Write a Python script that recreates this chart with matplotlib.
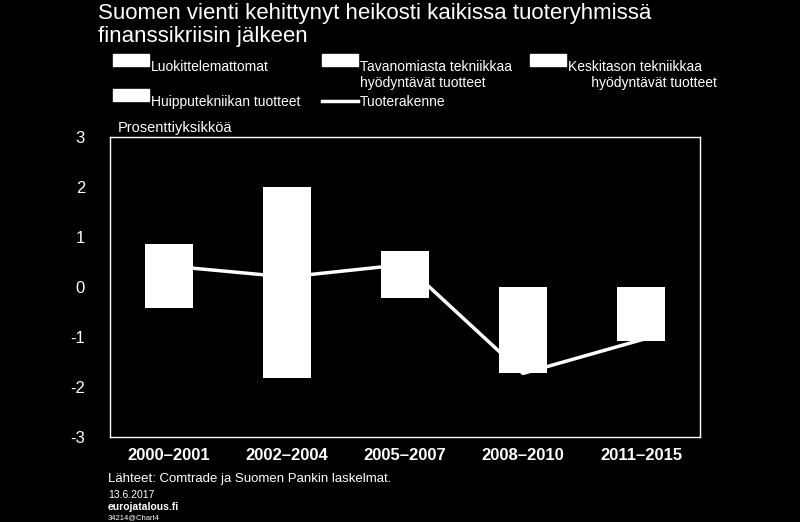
import matplotlib.pyplot as plt
import numpy as np
from matplotlib.patches import Rectangle
from matplotlib.lines import Line2D

plt.rcParams["font.family"] = "Liberation Sans"
plt.rcParams["axes.unicode_minus"] = False

kaudet = ["2000–2001", "2002–2004", "2005–2007", "2008–2010", "2011–2015"]
luokittelemattomat = [0.30, 1.00, 0.30, -0.50, -0.30]
tavanomainen = [0.30, -0.80, 0.20, -0.50, -0.30]
keskitaso = [0.26, 1.00, 0.22, -0.40, -0.28]
huippu = [-0.42, -1.02, -0.22, -0.32, -0.20]
tuoterakenne = [0.42, 0.20, 0.45, -1.73, -1.06]

fig = plt.figure(figsize=(8, 5.22), dpi=100, facecolor="black")
ax = fig.add_axes([0.1375, 0.163, 0.7375, 0.5745], facecolor="black")

x = np.arange(len(kaudet))
pos = np.zeros(len(kaudet))
neg = np.zeros(len(kaudet))
for sarja in [luokittelemattomat, tavanomainen, keskitaso, huippu]:
    v = np.array(sarja)
    base = np.where(v >= 0, pos, neg)
    ax.bar(x, v, 0.4, bottom=base, color="white", edgecolor="none", linewidth=0, zorder=2)
    pos = pos + np.where(v >= 0, v, 0)
    neg = neg + np.where(v < 0, v, 0)

ax.plot(x, tuoterakenne, color="white", lw=2.5, zorder=1)

ax.set_xlim(-0.5, 4.5)
ax.set_ylim(-3, 3)
ax.set_yticks(range(-3, 4))
ax.set_xticks(x)
ax.set_xticklabels(kaudet, fontsize=12, fontweight="bold")
ax.tick_params(colors="white", labelsize=12, length=0, pad=8)
ax.tick_params(axis="y", pad=18)
for s in ax.spines.values():
    s.set_color("white")
    s.set_linewidth(1)

W, H = 800, 522
def fx(px): return px / W
def fy(py): return 1 - py / H

fig.text(fx(98), fy(3), "Suomen vienti kehittynyt heikosti kaikissa tuoteryhmissä\nfinanssikriisin jälkeen",
         color="white", fontsize=16, va="top", linespacing=1.1)
fig.text(fx(118), fy(128), "Prosenttiyksikköä", color="white", fontsize=10.5, va="center")

def laatikko(px, py, teksti):
    fig.patches.append(Rectangle((fx(px), fy(py + 6)), fx(36), 12 / H, color="white",
                                 transform=fig.transFigure))
    fig.text(fx(px + 38), fy(py), teksti, color="white", fontsize=10, va="top")

laatikko(113, 60, "Luokittelemattomat")
laatikko(322, 60, "Tavanomiasta tekniikkaa\nhyödyntävät tuotteet")
laatikko(530, 60, "Keskitason tekniikkaa\n      hyödyntävät tuotteet")
laatikko(113, 95, "Huipputekniikan tuotteet")
fig.lines.append(Line2D([fx(322), fx(358)], [fy(101), fy(101)], color="white", lw=2.5,
                        transform=fig.transFigure))
fig.text(fx(360), fy(95), "Tuoterakenne", color="white", fontsize=10, va="top")

fig.text(fx(108), fy(479), "Lähteet: Comtrade ja Suomen Pankin laskelmat.", color="white", fontsize=9.5, va="center")
fig.text(fx(108), fy(495), "13.6.2017", color="white", fontsize=7.5, va="center")
fig.text(fx(108), fy(507), "eurojatalous.fi", color="white", fontsize=7.5, fontweight="bold", va="center")
fig.text(fx(108), fy(518), "34214@Chart4", color="white", fontsize=5.5, va="center")

fig.savefig("out.png", dpi=100, facecolor="black")
